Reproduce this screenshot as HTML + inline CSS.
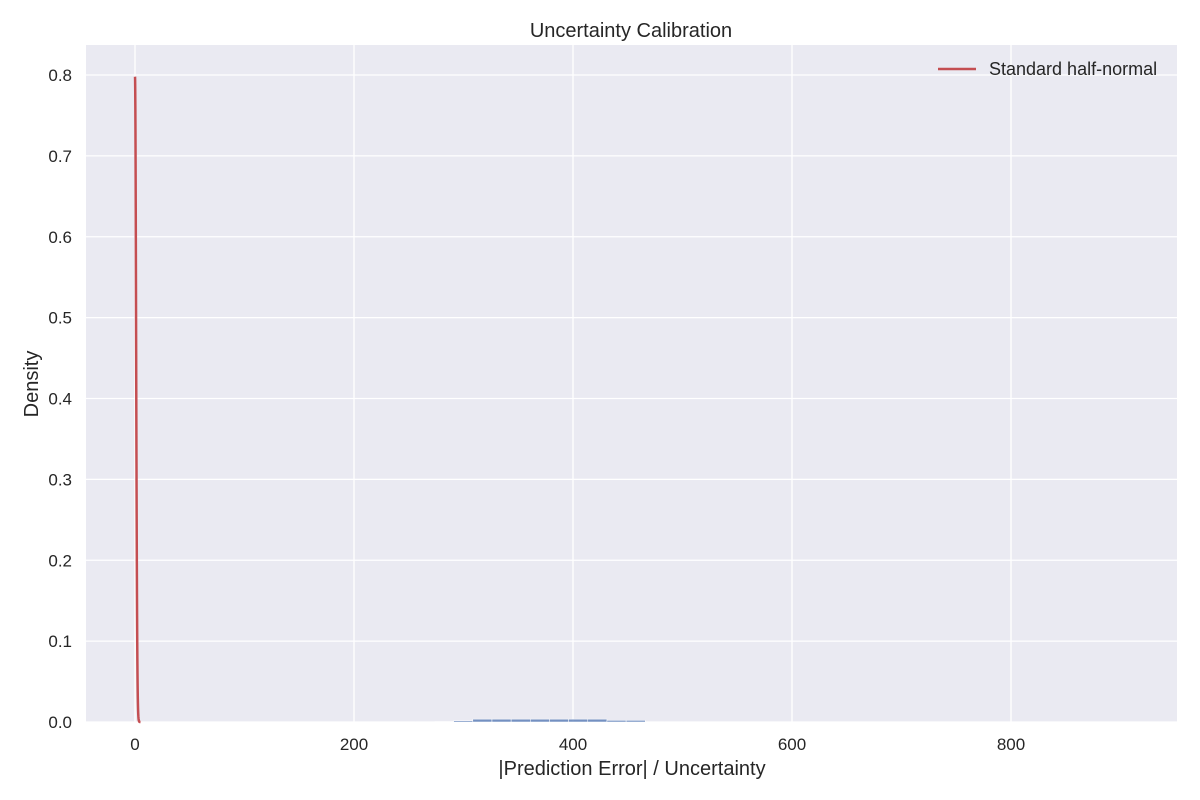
<!DOCTYPE html>
<html><head><meta charset="utf-8"><style>body{margin:0;background:#fff}svg{display:block;font-family:"Liberation Sans","DejaVu Sans",sans-serif}</style></head>
<body>
<svg id="chart" width="1200" height="800">
<rect x="86" y="45" width="1091" height="677" fill="#eaeaf2"/>
<g id="grid"></g><g id="bars"></g><g id="curve"></g><g id="ticks"></g>
<text x="631" y="37" text-anchor="middle" font-size="20" fill="#262626">Uncertainty Calibration</text>
<text x="632" y="775" text-anchor="middle" font-size="20" fill="#262626">|Prediction Error| / Uncertainty</text>
<text transform="translate(38,384) rotate(-90)" text-anchor="middle" font-size="20" fill="#262626">Density</text>
<g>
<line x1="938" y1="69" x2="976" y2="69" stroke="#c44e52" stroke-width="2.5"/>
<text x="989" y="75" font-size="18" fill="#262626">Standard half-normal</text>
</g>
</svg>
<script>
const xTicks=[0,200,400,600,800];
const yTicks=[0,0.1,0.2,0.3,0.4,0.5,0.6,0.7,0.8];
const binStart=256, binWidth=17.5;
const binDensities=[0.0003,0.0005,0.0015,0.0035,0.0035,0.0035,0.0035,0.0035,0.0035,0.0035,0.002,0.002,0.0003,0.0003];
const NS='http://www.w3.org/2000/svg';
const X=v=>135+v*1.095, Y=v=>722-v*808.75;
function mk(t,a,p){const e=document.createElementNS(NS,t);for(const k in a)e.setAttribute(k,a[k]);p.appendChild(e);return e;}
const g=document.getElementById('grid'),tk=document.getElementById('ticks'),b=document.getElementById('bars'),c=document.getElementById('curve');
xTicks.forEach(v=>{const l=mk('line',{x1:X(v),x2:X(v),y1:45,y2:722,stroke:'#fff','stroke-width':1.3},g);


const t=mk('text',{x:X(v),y:750,'text-anchor':'middle','font-size':17,fill:'#262626'},tk);t.textContent=v;

});
yTicks.forEach(v=>{const l=mk('line',{x1:86,x2:1177,y1:Y(v),y2:Y(v),stroke:'#fff','stroke-width':1.3},g);


const t=mk('text',{x:72,y:Y(v)+6,'text-anchor':'end','font-size':17,fill:'#262626'},tk);t.textContent=v.toFixed(1);

});
binDensities.forEach((d,i)=>{const x0=X(binStart+i*binWidth),x1=X(binStart+(i+1)*binWidth);
const r=mk('rect',{x:x0,y:Y(d),width:x1-x0,height:722-Y(d),fill:'#4c72b0','fill-opacity':0.75,stroke:'#fff','stroke-width':0.5},b);

});
let pts=[];for(let i=0;i<=200;i++){const x=i*0.025;pts.push(X(x).toFixed(2)+','+Y(2*Math.exp(-x*x/2)/Math.sqrt(2*Math.PI)).toFixed(2));}
const p=mk('polyline',{points:pts.join(' '),fill:'none',stroke:'#c44e52','stroke-width':2.5},c);


</script>
</body></html>
